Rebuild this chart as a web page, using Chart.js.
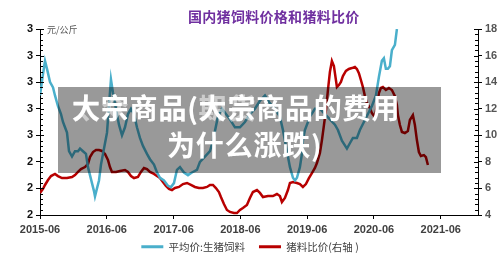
<!DOCTYPE html>
<html><head><meta charset="utf-8">
<script src="https://cdn.jsdelivr.net/npm/chart.js@4"></script>
<style>
html,body{margin:0;padding:0;background:#fff;}
#wrap{position:relative;width:500px;height:262px;overflow:hidden;background:#fff;}
#c{position:absolute;left:0;top:0;}
.title{position:absolute;left:188px;top:9px;font:bold 14px/14px "Noto Sans CJK SC";color:#7030A0;white-space:nowrap;letter-spacing:0.3px;}
.unit{position:absolute;left:47px;top:25px;font:9px/9px "Noto Sans CJK SC";color:#555;white-space:nowrap;}
.mask{position:absolute;left:58px;top:87px;width:383px;height:86px;background:rgba(0,0,0,0.4);}
.mask div{position:absolute;font:bold 28px/28px "Noto Sans CJK SC";color:#fff;white-space:nowrap;letter-spacing:0.8px;}
</style></head>
<body>
<div id="wrap">
<canvas id="c" width="500" height="262"></canvas>
<div class="title">国内猪饲料价格和猪料比价</div>
<div class="unit">元/公斤</div>
<div class="mask">
  <div style="left:14px;top:6px;opacity:0.5">太众商品(期货</div>
  <div style="left:14px;top:6px;">大宗商品(大宗商品的费用</div>
  <div style="left:109px;top:43px;">为什么涨跌)</div>
</div>
</div>
<script>
// months since 2015-06
const blueMonths = [0,0.54,0.90,1.26,1.80,2.34,2.69,3.23,3.77,4.13,4.49,4.85,5.21,5.75,6.29,6.83,7.19,7.72,8.26,8.62,8.98,9.34,9.70,9.88,10.24,10.60,10.96,11.32,11.68,12.04,12.39,12.75,13.11,13.65,14.19,14.73,15.27,15.81,16.35,16.89,17.42,17.96,18.50,19.22,19.76,20.48,21.02,21.56,22.27,22.99,23.53,24.07,24.61,25.15,25.87,26.59,27.30,28.20,28.74,29.64,30.54,31.08,31.97,32.69,33.41,34.13,35.03,35.93,36.82,37.72,38.62,39.52,40.42,41.31,42.21,43.11,43.65,44.37,44.91,45.45,45.81,46.17,46.70,47.06,47.24,47.60,48.50,49.40,50.30,51.19,52.09,52.99,53.53,54.25,55.15,55.68,56.22,56.94,57.48,58.20,58.92,59.64,60.36,60.90,61.43,61.79,62.15,62.51,62.87,63.23,63.77,64.13];
const blueValues = [3.15,3.23,3.28,3.25,3.20,3.18,3.15,3.11,3.08,3.05,3.03,3.01,2.94,2.92,2.94,2.94,2.95,2.94,2.93,2.88,2.85,2.82,2.79,2.77,2.80,2.83,2.89,2.93,2.97,3.01,3.11,3.21,3.16,3.10,3.04,3.00,3.03,3.08,3.10,3.08,3.03,2.99,2.96,2.93,2.91,2.89,2.86,2.84,2.83,2.81,2.805,2.82,2.87,2.88,2.86,2.85,2.86,2.87,2.90,2.92,2.94,2.98,3.07,3.10,3.08,3.06,3.03,3.03,3.05,3.08,3.10,3.13,3.15,3.12,3.10,3.07,3.02,2.94,2.88,2.84,2.83,2.84,2.88,2.93,2.98,3.02,3.07,3.10,3.10,3.08,3.06,3.04,3.02,2.98,2.95,2.97,2.99,2.99,3.02,3.05,3.08,3.11,3.15,3.22,3.28,3.29,3.25,3.25,3.26,3.32,3.34,3.40];
const redMonths = [0,0.54,0.90,1.44,1.98,2.69,3.23,3.95,4.85,5.75,6.29,6.83,7.36,8.08,8.62,8.98,9.52,10.06,10.60,11.14,11.68,12.21,12.57,12.93,13.65,14.37,15.27,15.81,16.35,16.89,17.60,18.14,18.68,19.22,19.76,20.48,21.02,21.56,22.09,22.63,23.17,23.71,24.25,24.97,25.69,26.41,27.12,27.84,28.56,29.28,30.00,30.54,31.08,31.61,32.15,32.51,33.05,33.59,34.13,34.85,35.39,35.93,36.46,37.18,37.72,38.26,38.98,39.52,40.06,40.96,41.85,42.57,43.11,43.47,44.01,44.55,44.91,45.45,46.17,46.70,47.24,47.78,48.32,48.86,49.40,49.76,50.30,50.66,51.02,51.38,51.74,52.09,52.45,52.81,53.17,53.35,53.71,54.07,54.43,54.97,55.50,56.04,56.58,56.94,57.30,57.66,58.02,58.38,58.74,59.28,59.64,60.18,60.54,60.90,61.25,61.61,62.15,62.69,63.23,63.77,64.13,64.31,64.67,65.03,65.56,66.10,66.46,67.00,67.36,67.72,68.08,68.44,68.98,69.34,69.70];
const redValues = [5.66,5.96,6.26,6.63,6.93,7.09,6.93,6.78,6.78,6.86,7.01,7.24,7.46,7.61,7.84,8.36,8.74,8.89,8.89,8.82,8.59,8.14,7.61,7.24,7.24,7.31,7.39,7.24,6.93,6.78,6.86,7.24,7.54,7.46,7.24,7.09,6.93,6.78,6.48,6.18,5.96,5.88,6.03,6.11,6.33,6.41,6.26,6.11,6.03,6.03,6.11,6.26,6.26,6.03,5.73,5.35,4.83,4.38,4.23,4.15,4.15,4.38,4.53,4.75,5.28,5.73,5.88,5.66,5.35,5.43,5.43,5.58,5.43,4.98,5.28,5.88,6.41,6.48,6.41,6.33,6.11,6.33,6.78,7.16,7.54,7.91,8.67,9.64,10.77,11.90,13.41,14.76,15.59,15.21,14.16,13.63,13.78,14.01,14.46,14.84,14.99,15.06,15.14,14.99,14.68,14.16,13.63,12.95,12.43,12.05,11.67,11.37,12.28,13.18,13.56,13.63,13.41,13.56,13.41,12.95,12.28,11.52,10.77,10.25,10.17,10.32,11.15,11.52,10.77,9.64,8.74,8.44,8.51,8.36,7.76];
const xTickMonths = [0,12,24,36,48,60,72];
const xTickLabels = ['2015-06','2016-06','2017-06','2018-06','2019-06','2020-06','2021-06'];
const seriesNames = ['平均价:生猪饲料','猪料比价(右轴 )'];

const minorTicks = {
  id:'minorTicks',
  afterDraw(chart){
    const c = chart.ctx, y = chart.scales.y, y1 = chart.scales.y1;
    c.save(); c.strokeStyle = '#000'; c.lineWidth = 1;
    const L = chart.chartArea.left, R = chart.chartArea.right;
    for (let i = 0; i <= 35; i++) {
      const v = y.min + i * (y.max - y.min) / 35;
      const p = Math.round(y.getPixelForValue(v)) + 0.5;
      const len = (i % 5 === 0) ? 4 : 3;
      c.beginPath(); c.moveTo(L, p); c.lineTo(L + len, p); c.stroke();
    }
    for (let i = 0; i <= 35; i++) {
      const v = y1.min + i * (y1.max - y1.min) / 35;
      const p = Math.round(y1.getPixelForValue(v)) + 0.5;
      const len = (i % 5 === 0) ? 4 : 3;
      c.beginPath(); c.moveTo(R, p); c.lineTo(R - len, p); c.stroke();
    }
    c.restore();
  }
};

const axisFont = {family:'"Liberation Sans", Arial', size:11, weight:'bold'};
new Chart(document.getElementById('c'), {
  type:'line',
  data:{datasets:[
    {label:seriesNames[0], data:blueMonths.map((m,i)=>({x:m,y:blueValues[i]})), borderColor:'#4AAFCB', backgroundColor:'#4AAFCB', borderWidth:2.5, pointRadius:0, tension:0, yAxisID:'y'},
    {label:seriesNames[1], data:redMonths.map((m,i)=>({x:m,y:redValues[i]})), borderColor:'#B80000', backgroundColor:'#B80000', borderWidth:2.5, pointRadius:0, tension:0, yAxisID:'y1'}
  ]},
  options:{
    responsive:false, animation:false, devicePixelRatio:1,
    layout:{padding:{top:29,bottom:0,left:0,right:0}},
    plugins:{
      tooltip:{enabled:false},
      legend:{position:'bottom', labels:{boxWidth:22, boxHeight:3, padding:14, color:'#404040',
        font:{family:'"Noto Sans CJK SC"', size:10.5},
        generateLabels:(ch)=>ch.data.datasets.map((d,i)=>({text:d.label, fillStyle:d.borderColor, strokeStyle:d.borderColor, lineWidth:0, hidden:false, datasetIndex:i, fontColor:'#404040'}))}}
    },
    scales:{
      x:{type:'linear', min:0, max:78.7,
        afterBuildTicks:(s)=>{s.ticks = xTickMonths.map(v=>({value:v}));},
        afterFit:(s)=>{s.height = 12.5; s._computeLabelArea = () => undefined;},
        ticks:{autoSkip:false, maxRotation:0, padding:4, color:'#404040', font:axisFont,
          callback:(v)=>xTickLabels[xTickMonths.indexOf(v)]},
        grid:{drawOnChartArea:false, tickLength:4, color:'#000'},
        border:{color:'#000', width:1}},
      y:{position:'left', min:2.7, max:3.4,
        afterFit:(s)=>{s.width = 40;},
        ticks:{stepSize:0.1, padding:3, color:'#111', font:axisFont, callback:(v)=>String(Math.floor(v+1e-6))},
        grid:{drawOnChartArea:false, tickLength:4, color:'#000'},
        border:{color:'#000', width:1}},
      y1:{position:'right', min:4, max:18,
        afterFit:(s)=>{s.width = 22;},
        ticks:{stepSize:2, padding:3, color:'#555', font:axisFont},
        grid:{drawOnChartArea:false, tickLength:4, color:'#000'},
        border:{color:'#000', width:1}}
    }
  },
  plugins:[minorTicks]
});
</script>
</body></html>
